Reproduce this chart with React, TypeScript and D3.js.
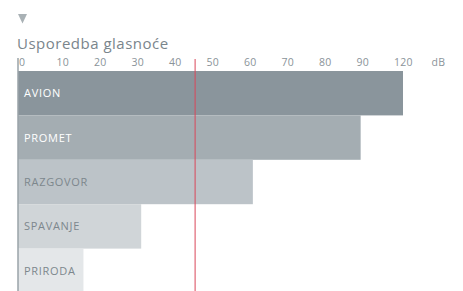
import { useEffect, useRef } from "react";
import * as d3 from "d3";

const categories = ["AVION", "PROMET", "RAZGOVOR", "SPAVANJE", "PRIRODA"];
const values = [120, 89, 61, 32, 17];
const barColors = ["#8a959c", "#a4adb2", "#bcc3c8", "#d0d5d8", "#e4e7e9"];
const labelColors = ["#ffffff", "#ffffff", "#7d878d", "#7d878d", "#7d878d"];
const tickLabels = ["0", "10", "20", "30", "40", "50", "60", "70", "80", "90", "120", "dB"];
const threshold = 46;
const title = "Usporedba glasnoće";

export default function App() {
  const svgRef = useRef<SVGSVGElement>(null);

  useEffect(() => {
    if (!svgRef.current) return;
    const W = 463, H = 291;
    const svg = d3.select(svgRef.current).attr("width", W).attr("height", H);
    svg.selectAll("*").remove();
    const font = "'Open Sans', sans-serif";

    // value scale: 0..90 linear, last step squeezed to 120
    const x = d3.scaleLinear().domain([0, 90, 120]).range([18, 18 + 385 * 0.9, 403]);
    const y = d3.scaleBand().domain(categories).range([71, 293]).padding(0);
    const tx = d3.scalePoint().domain(tickLabels).range([19, 431.5]);

    // little triangle marker
    const tri = d3.line()([[18, 14], [27, 14], [22.5, 23.5]]) + "Z";
    svg.append("path").attr("d", tri).attr("fill", "#a9b1b5");

    svg.append("text").attr("x", 17).attr("y", 49).attr("fill", "#7a858c")
      .attr("font-family", font).attr("font-size", 15).attr("letter-spacing", 0.5).text(title);

    tickLabels.forEach(t => {
      svg.append("text").attr("x", tx(t)!).attr("y", 65.5).attr("fill", "#8a9399")
        .attr("font-family", font).attr("font-size", 10.5).attr("letter-spacing", 0.3).text(t);
    });

    categories.forEach((c, i) => {
      svg.append("rect").attr("x", x(0)).attr("y", y(c)!).attr("width", x(values[i]) - x(0))
        .attr("height", y.bandwidth()).attr("fill", barColors[i]);
      svg.append("text").attr("x", 24).attr("y", y(c)! + y.bandwidth() / 2 + 4)
        .attr("fill", labelColors[i]).attr("font-family", font).attr("font-size", 11)
        .attr("letter-spacing", 0.7).text(c);
    });

    svg.append("line").attr("x1", 18).attr("x2", 18).attr("y1", 58).attr("y2", H)
      .attr("stroke", "#9aa3a8").attr("stroke-width", 1.5);

    svg.append("line").attr("x1", x(threshold)).attr("x2", x(threshold)).attr("y1", 59).attr("y2", H)
      .attr("stroke", "#d9475a").attr("stroke-width", 1);
  }, []);

  return (
    <div style={{ position: "absolute", left: 0, top: 0, width: 463, height: 291, background: "#fff" }}>
      <svg ref={svgRef} style={{ display: "block" }} />
    </div>
  );
}
